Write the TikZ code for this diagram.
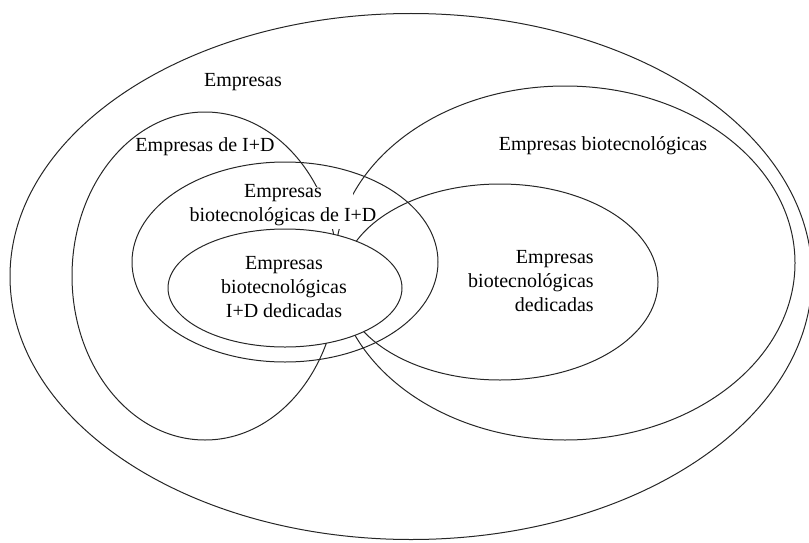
\documentclass[tikz,border=0pt]{standalone}
\usepackage{fontspec}
\setmainfont{Liberation Serif}
\begin{document}
\begin{tikzpicture}[x=0.75pt,y=-0.75pt,
  setline/.style={draw=black!85,line width=0.75pt},
  label/.style={font=\fontsize{15}{18}\selectfont,inner sep=0pt}]
\useasboundingbox (0,0) rectangle (809,542);
\clip (0,0) rectangle (809,542);
% outer set: all firms
\draw[setline] (411,276.5) ellipse [x radius=300.75pt, y radius=197.25pt];
% R&D firms
\draw[setline] (205,276) ellipse [x radius=99.75pt, y radius=123pt];
% biotech firms
\draw[setline] (565,263) ellipse [x radius=172.5pt, y radius=132.75pt];
% dedicated biotech firms
\draw[setline] (500,282) ellipse [x radius=118.5pt, y radius=73.5pt];
% biotech R&D firms
\draw[setline] (285,262) ellipse [x radius=114.75pt, y radius=75pt];
% white text box of the biotech R&D label
\fill[white] (215,187) rectangle (353,229);
% dedicated biotech R&D firms
\draw[setline,fill=white] (285,288) ellipse [x radius=87.75pt, y radius=44.25pt];
% labels
\node[label] (tEmp) at (243,82) {Empresas};
\node[label] (tID) at (205,147) {Empresas de I+D};
\node[label] (tBio) at (603,146) {Empresas biotecnológicas};
\node[label,align=center] (tBioID) at (283,205) {Empresas\\biotecnológicas de I+D};
\node[label,align=center] (tBioIDDed) at (284,287) {Empresas\\biotecnológicas\\I+D dedicadas};
\node[label,align=right,anchor=east] (tBioDed) at (594,281) {Empresas\\biotecnológicas\\dedicadas};
\end{tikzpicture}
\end{document}
